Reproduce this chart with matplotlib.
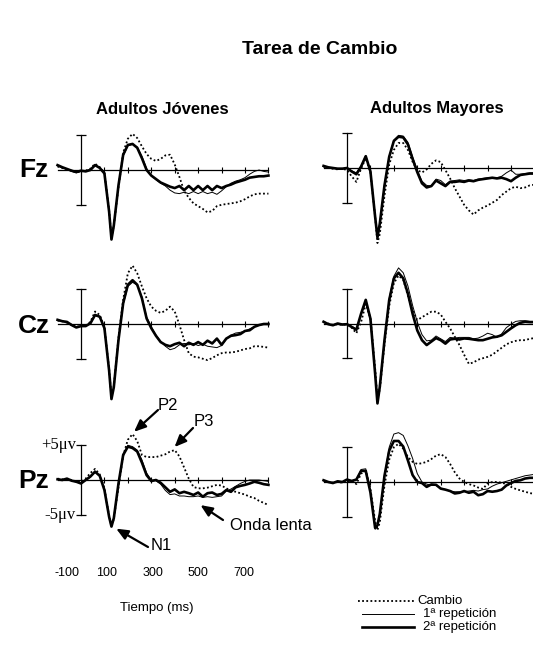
import matplotlib
matplotlib.use('Agg')
import matplotlib.pyplot as plt
from matplotlib.lines import Line2D

plt.rcParams['font.family'] = ['Liberation Sans', 'DejaVu Sans']

W, H = 533, 657

# tiempo en ms, amplitud en microvoltios
tiempo = [-100, -80, -60, -40, -20, 0, 20, 40, 60, 80,
          100, 120, 130, 140, 160,
          180, 200, 220, 240, 260, 280, 300, 320, 340, 360,
          380, 400, 420, 440, 460, 480, 500, 520, 540, 560,
          580, 600, 620, 640, 660, 680, 700, 720, 740, 760,
          780, 800]

# Fz - jovenes
fz_jov_c = [0.5, 0.3, 0.1, -0.1, -0.3, -0.2, -0.1, 0.2, 0.9, 0.4,
            -0.4, -5.8, -9.8, -8.0, -2.5,
            2.5, 4.5, 5.2, 4.6, 3.4, 2.3, 1.6, 1.3, 1.6, 2.1,
            2.2, 0.8, -1.0, -3.0, -4.0, -4.8, -5.2, -5.6, -6.1, -5.9,
            -5.2, -5.0, -4.9, -4.8, -4.7, -4.5, -4.2, -3.8, -3.5, -3.4,
            -3.4, -3.4]
fz_jov_1 = [0.6, 0.3, 0.1, -0.2, -0.4, -0.2, -0.1, 0.1, 0.8, 0.3,
            -0.5, -6.0, -10.0, -8.0, -2.3,
            2.0, 3.5, 3.7, 3.3, 2.0, 0.2, -0.8, -1.4, -1.9, -2.3,
            -2.9, -3.3, -3.4, -3.2, -3.4, -3.1, -3.4, -3.1, -3.4, -3.2,
            -3.5, -3.0, -2.4, -1.9, -1.6, -1.4, -1.1, -0.6, -0.2, 0.0,
            -0.2, -0.3]
fz_jov_2 = [0.7, 0.4, 0.15, -0.1, -0.3, -0.1, -0.2, 0.0, 0.7, 0.3,
            -0.5, -6.0, -10.0, -8.0, -2.2,
            2.2, 3.6, 3.75, 3.2, 1.7, 0.0, -0.8, -1.3, -1.8, -2.1,
            -2.4, -2.6, -2.3, -2.9, -2.3, -2.9, -2.3, -2.9, -2.3, -2.9,
            -2.3, -2.6, -2.3, -2.1, -1.8, -1.6, -1.4, -1.1, -1.0, -0.9,
            -0.9, -0.8]

# Fz - mayores
fz_may_c = [0.2, 0.0, -0.1, -0.2, -0.1, -0.3, -1.2, -2.0, -0.1, 1.4,
            -0.6, -7.0, -10.8, -9.5, -4.0,
            0.5, 2.6, 3.6, 3.6, 2.6, 0.9, -0.3, -0.65, -0.2, 0.6,
            1.1, 0.85, -0.3, -1.5, -2.9, -4.1, -5.3, -6.1, -6.7, -6.1,
            -5.7, -5.4, -5.0, -4.6, -3.9, -3.4, -2.9, -2.7, -2.9, -2.8,
            -2.5, -2.4]
fz_may_1 = [0.2, 0.1, 0.0, -0.1, -0.1, 0.0, -0.4, -0.7, 0.3, 1.8,
            -0.4, -6.8, -9.8, -8.0, -2.4,
            1.7, 4.0, 4.7, 4.6, 3.7, 1.6, -0.3, -1.9, -2.5, -2.6,
            -1.6, -1.8, -2.4, -1.9, -1.8, -1.7, -1.8, -1.7, -1.8, -1.6,
            -1.5, -1.4, -1.4, -1.4, -1.2, -0.7, -0.3, -0.9, -0.9, -0.8,
            -0.7, -0.7]
fz_may_2 = [0.3, 0.1, 0.0, -0.1, -0.1, 0.0, -0.5, -0.9, 0.2, 1.7,
            -0.5, -7.0, -10.0, -8.0, -2.5,
            1.6, 3.9, 4.5, 4.4, 3.4, 1.3, -0.6, -2.2, -2.8, -2.6,
            -1.8, -2.2, -2.6, -2.0, -2.0, -1.9, -2.0, -1.8, -1.9, -1.7,
            -1.6, -1.5, -1.4, -1.5, -1.4, -1.6, -1.9, -1.4, -1.0, -0.9,
            -0.8, -0.8]

# Cz - jovenes
cz_jov_c = [0.5, 0.4, 0.2, -0.1, -0.4, -0.3, -0.2, 0.3, 1.8, 1.3,
            -0.5, -6.5, -10.5, -9.0, -2.0,
            3.5, 7.3, 8.4, 7.3, 5.4, 3.7, 2.5, 1.9, 1.6, 1.9,
            2.5, 1.8, -0.1, -2.3, -4.2, -4.7, -4.8, -5.0, -5.2, -4.9,
            -4.5, -4.2, -4.1, -4.1, -4.0, -3.8, -3.6, -3.5, -3.2, -3.2,
            -3.3, -3.4]
cz_jov_1 = [0.5, 0.4, 0.2, -0.2, -0.5, -0.3, -0.2, 0.1, 1.2, 1.0,
            -0.6, -6.7, -10.8, -9.1, -2.4,
            2.8, 5.4, 6.0, 5.6, 3.9, 1.0, -0.4, -1.6, -2.5, -3.2,
            -3.7, -3.5, -3.0, -2.8, -3.0, -2.8, -3.1, -2.9, -3.2, -3.3,
            -3.4, -3.1, -2.2, -1.6, -1.3, -1.2, -1.0, -0.7, -0.4, -0.2,
            0.0, 0.0]
cz_jov_2 = [0.6, 0.4, 0.3, -0.15, -0.5, -0.3, -0.3, 0.1, 1.3, 1.05,
            -0.6, -6.7, -10.8, -9.1, -2.3,
            3.0, 5.65, 6.3, 5.65, 3.7, 0.8, -0.6, -1.7, -2.6, -3.0,
            -3.2, -2.9, -2.7, -3.2, -2.7, -3.0, -2.6, -3.0, -2.4, -2.8,
            -2.1, -3.0, -2.1, -1.7, -1.6, -1.45, -1.0, -0.9, -0.4, -0.15,
            0.0, 0.0]

# Cz - mayores
cz_may_c = [0.2, 0.0, -0.2, -0.1, -0.2, -0.1, -0.6, -1.4, 0.2, 2.8,
            0.8, -6.5, -10.8, -9.5, -3.0,
            2.5, 5.8, 6.9, 6.3, 4.0, 1.9, 0.5, 0.9, 1.3, 1.7,
            1.7, 1.3, 0.25, -0.7, -1.9, -3.1, -4.5, -5.8, -5.6, -5.2,
            -5.0, -4.8, -4.5, -4.0, -3.5, -3.0, -2.7, -2.5, -2.4, -2.4,
            -2.2, -2.1]
cz_may_1 = [0.2, -0.1, -0.2, 0.0, -0.1, -0.1, -0.4, -0.8, 1.3, 3.0,
            0.5, -7.3, -11.3, -9.0, -2.2,
            3.6, 6.8, 8.0, 7.3, 5.4, 2.6, 0.2, -1.6, -2.5, -2.4,
            -1.8, -2.2, -2.6, -2.0, -2.1, -2.0, -2.0, -2.0, -2.2, -2.1,
            -1.8, -1.4, -1.6, -2.0, -1.5, -0.6, -0.1, 0.3, 0.4, 0.4,
            0.3, 0.3]
cz_may_2 = [0.25, -0.1, -0.25, 0.0, -0.15, -0.1, -0.5, -0.9, 1.4, 3.4,
            0.7, -7.2, -11.5, -9.1, -2.4,
            3.35, 6.5, 7.3, 6.5, 4.3, 1.4, -1.0, -2.4, -3.1, -2.6,
            -2.1, -2.4, -2.9, -2.3, -2.2, -2.3, -2.15, -2.2, -2.3, -2.4,
            -2.4, -2.2, -2.0, -1.9, -1.7, -1.2, -0.7, -0.25, 0.1, 0.25,
            0.2, 0.2]

# Pz - jovenes
pz_jov_c = [0.2, 0.1, 0.1, 0.0, -0.2, -0.3, 0.2, 1.0, 1.6, 0.8,
            -1.2, -5.2, -6.6, -5.6, -1.0,
            3.5, 5.8, 6.6, 5.6, 3.6, 3.3, 3.3, 3.3, 3.5, 3.7,
            4.1, 4.3, 3.4, 1.8, 0.2, -1.0, -1.2, -1.2, -1.1, -0.9,
            -0.7, -0.8, -1.2, -1.5, -1.7, -1.9, -2.1, -2.4, -2.6, -3.0,
            -3.3, -3.6]
pz_jov_1 = [0.1, 0.0, 0.2, -0.1, -0.3, -0.4, 0.0, 0.4, 1.1, 0.6,
            -1.4, -5.3, -6.7, -5.5, -0.6,
            3.7, 5.0, 4.8, 4.3, 2.9, 1.0, 0.0, -0.1, -0.6, -1.5,
            -2.1, -2.0, -2.3, -2.3, -2.4, -2.4, -2.3, -2.5, -2.4, -2.5,
            -2.4, -2.3, -1.6, -1.3, -0.9, -0.5, -0.2, 0.0, 0.0, 0.0,
            -0.1, -0.2]
pz_jov_2 = [0.1, 0.0, 0.2, -0.1, -0.25, -0.5, 0.0, 0.5, 1.2, 0.6,
            -1.45, -5.3, -6.7, -5.5, -0.5,
            3.6, 4.8, 4.6, 4.1, 2.5, 0.7, -0.15, 0.0, -0.4, -1.05,
            -1.7, -1.35, -1.9, -1.7, -1.9, -2.15, -1.8, -2.4, -1.9, -1.8,
            -2.15, -2.0, -1.45, -1.7, -1.05, -0.85, -0.7, -0.5, -0.25, -0.4,
            -0.6, -0.7]

# Pz - mayores
pz_may_c = [0.2, 0.0, -0.1, 0.0, -0.1, 0.1, 0.2, -0.3, 1.2, 1.6,
            -1.0, -5.6, -6.9, -5.8, -0.5,
            3.2, 5.0, 5.5, 4.8, 3.6, 2.9, 2.6, 2.7, 2.9, 3.3,
            3.8, 4.0, 3.6, 2.6, 1.4, 0.5, 0.0, -0.3, -0.5, -0.8,
            -1.0, -0.2, 0.0, 0.0, -0.1, -0.3, -0.7, -1.0, -1.2, -1.4,
            -1.6, -1.7]
pz_may_1 = [0.2, 0.0, -0.1, 0.1, 0.0, 0.3, 0.1, 0.3, 1.8, 1.9,
            -1.3, -6.8, -6.5, -4.8, 0.8,
            5.0, 6.9, 7.1, 6.7, 5.2, 3.4, 1.2, 0.0, -0.3, -0.5,
            -0.5, -0.9, -1.1, -1.3, -1.4, -1.4, -1.4, -1.3, -1.2, -1.3,
            -1.1, -1.0, -0.6, -0.3, -0.1, 0.1, 0.3, 0.5, 0.7, 0.9,
            1.0, 1.1]
pz_may_2 = [0.25, 0.0, -0.15, 0.1, 0.0, 0.35, 0.15, 0.35, 1.6, 1.6,
            -1.5, -6.6, -6.2, -4.6, 0.9,
            4.5, 5.9, 5.9, 5.1, 3.1, 1.0, 0.0, -0.15, -0.7, -0.35,
            -0.4, -0.95, -1.1, -1.3, -1.65, -1.55, -1.3, -1.55, -1.4, -1.9,
            -1.75, -1.3, -1.4, -1.3, -1.1, -0.5, -0.15, 0.15, 0.25, 0.5,
            0.6, 0.6]

etiquetas_t = ['-100', '100', '300', '500', '700']
series = ['Cambio', '1ª repetición', '2ª repetición']

SX = 0.2343  # px por ms
SY = 6.95    # px por microvoltio

fig = plt.figure(figsize=(W / 100, H / 100), dpi=100)


def panel(x0, y0):
    # x0: pixel de t=0, y0: pixel de la linea base (desde arriba)
    tmin, tmax, vmin, vmax = -120, 820, -14, 10
    left = x0 + tmin * SX
    right = x0 + tmax * SX
    top = y0 - vmax * SY
    bottom = y0 - vmin * SY
    ax = fig.add_axes([left / W, 1 - bottom / H, (right - left) / W, (bottom - top) / H])
    ax.set_xlim(tmin, tmax)
    ax.set_ylim(vmin, vmax)
    ax.patch.set_visible(False)
    ax.spines['top'].set_visible(False)
    ax.spines['right'].set_visible(False)
    ax.spines['bottom'].set_position(('data', 0))
    ax.spines['bottom'].set_bounds(-100, 800)
    ax.spines['left'].set_position(('data', 0))
    ax.spines['left'].set_bounds(-5, 5)
    for s in ['bottom', 'left']:
        ax.spines[s].set_linewidth(0.9)
    ax.set_xticks(range(100, 801, 100))
    ax.set_xticklabels([])
    ax.set_yticks([-5, 5])
    ax.set_yticklabels([])
    ax.tick_params(axis='x', direction='inout', length=4, width=0.8)
    ax.tick_params(axis='y', direction='inout', length=7, width=0.9)
    return ax


def ondas(ax, c, r1, r2):
    ax.plot(tiempo, c, color='black', lw=1.3, ls=(0, (1, 1.3)))
    ax.plot(tiempo, r1, color='black', lw=0.7)
    ax.plot(tiempo, r2, color='black', lw=1.9)


ax_fz_j = panel(81, 170)
ondas(ax_fz_j, fz_jov_c, fz_jov_1, fz_jov_2)
ax_fz_m = panel(347, 168)
ondas(ax_fz_m, fz_may_c, fz_may_1, fz_may_2)
ax_cz_j = panel(81, 324)
ondas(ax_cz_j, cz_jov_c, cz_jov_1, cz_jov_2)
ax_cz_m = panel(347, 323.5)
ondas(ax_cz_m, cz_may_c, cz_may_1, cz_may_2)
ax_pz_j = panel(81, 480)
ondas(ax_pz_j, pz_jov_c, pz_jov_1, pz_jov_2)
ax_pz_m = panel(347, 482)
ondas(ax_pz_m, pz_may_c, pz_may_1, pz_may_2)

# titulos
fig.text(320 / W, 1 - 50 / H, 'Tarea de Cambio', ha='center', va='center',
         fontsize=14, fontweight='bold')
fig.text(162 / W, 1 - 109 / H, 'Adultos Jóvenes', ha='center', va='center',
         fontsize=12, fontweight='bold')
fig.text(437 / W, 1 - 109 / H, 'Adultos Mayores', ha='center', va='center',
         fontsize=12, fontweight='bold')
for lab, y in [('Fz', 170), ('Cz', 326), ('Pz', 481)]:
    fig.text(34 / W, 1 - y / H, lab, ha='center', va='center',
             fontsize=19, fontweight='bold')

# escala
ax_pz_j.text(-22, 5, '+5μv', ha='right', va='center', fontsize=12,
             family='Liberation Serif')
ax_pz_j.text(-22, -5, '-5μv', ha='right', va='center', fontsize=12,
             family='Liberation Serif')

# componentes
flecha = dict(arrowstyle='-|>,head_length=0.7,head_width=0.3', color='black',
              lw=1.6, shrinkA=0, shrinkB=1)
ax_pz_j.annotate('', xy=(222, 6.8), xytext=(158, H - 410),
                 textcoords='figure pixels', arrowprops=flecha)
ax_pz_j.annotate('', xy=(395, 4.6), xytext=(193, H - 428),
                 textcoords='figure pixels', arrowprops=flecha)
ax_pz_j.annotate('', xy=(145, -6.9), xytext=(148, H - 547),
                 textcoords='figure pixels', arrowprops=flecha)
ax_pz_j.annotate('', xy=(505, -3.5), xytext=(223, H - 520),
                 textcoords='figure pixels', arrowprops=flecha)
fig.text(168 / W, 1 - 405 / H, 'P2', ha='center', va='center', fontsize=12)
fig.text(204 / W, 1 - 421 / H, 'P3', ha='center', va='center', fontsize=12)
fig.text(161 / W, 1 - 545 / H, 'N1', ha='center', va='center', fontsize=12)
fig.text(230 / W, 1 - 525 / H, 'Onda lenta', ha='left', va='center', fontsize=12)

# eje de tiempo
for lab, x in zip(etiquetas_t, [67, 107, 153, 198, 244]):
    fig.text(x / W, 1 - 573 / H, lab, ha='center', va='center', fontsize=9)
fig.text(157 / W, 1 - 608 / H, 'Tiempo (ms)', ha='center', va='center', fontsize=9.5)

# leyenda
estilos = [dict(lw=1.3, ls=(0, (1, 1.3))), dict(lw=0.7), dict(lw=1.9)]
for i, (nombre, st) in enumerate(zip(series, estilos)):
    y = 1 - (601 + 13 * i) / H
    x1 = 358 if i == 0 else 362
    fig.add_artist(Line2D([x1 / W, 414 / W], [y, y], transform=fig.transFigure,
                          color='black', **st))
    fig.text((417 if i == 0 else 423) / W, y, nombre, ha='left', va='center',
             fontsize=9.5)

fig.savefig('out.png', dpi=100)
